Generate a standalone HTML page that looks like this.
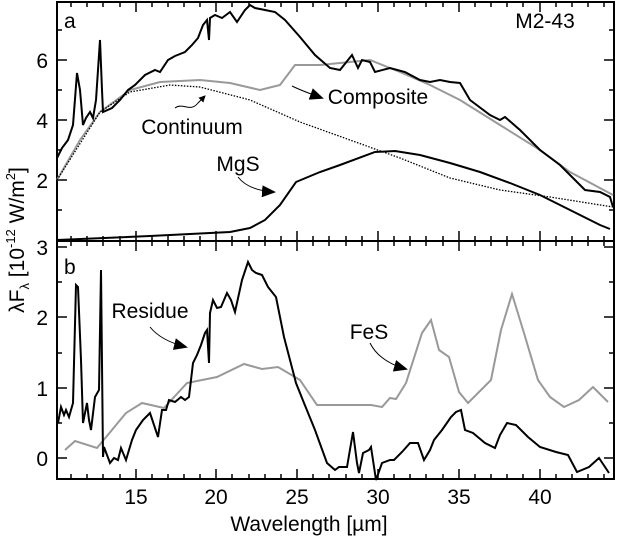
<!DOCTYPE html>
<html><head><style>body{margin:0;background:#fff}svg{display:block}text{font-family:"Liberation Sans",sans-serif;fill:#000}</style></head>
<body>
<svg width="618" height="540" viewBox="0 0 618 540" xmlns="http://www.w3.org/2000/svg">
<defs><marker id="ah" markerWidth="14" markerHeight="12" refX="12" refY="6" orient="auto" markerUnits="userSpaceOnUse"><path d="M0,0 L14,6 L0,12 z" fill="#000"/></marker>
<marker id="as" markerWidth="7" markerHeight="7" refX="6" refY="3.5" orient="auto" markerUnits="userSpaceOnUse"><path d="M0,0 L7,3.5 L0,7 z" fill="#000"/></marker></defs>
<g fill="none" stroke="#000" stroke-width="2">
<rect x="57" y="2" width="557" height="477"/>
<line x1="57" y1="241" x2="614" y2="241"/>
</g>
<g stroke="#000" stroke-width="1.5">
<path d="M136,479v-10M216,479v-10M297,479v-10M378,479v-10M459,479v-10M540,479v-10
M136,241v-10M216,241v-10M297,241v-10M378,241v-10M459,241v-10M540,241v-10
M136,241v10M216,241v10M297,241v10M378,241v10M459,241v10M540,241v10
M136,2v10M216,2v10M297,2v10M378,2v10M459,2v10M540,2v10"/>
<path d="M71,479v-5M87,479v-5M103,479v-5M120,479v-5M152,479v-5M168,479v-5M184,479v-5M200,479v-5M232,479v-5M249,479v-5M265,479v-5M281,479v-5M313,479v-5M329,479v-5M346,479v-5M362,479v-5M394,479v-5M410,479v-5M426,479v-5M443,479v-5M475,479v-5M491,479v-5M507,479v-5M523,479v-5M556,479v-5M572,479v-5M588,479v-5M604,479v-5
M71,241v-5M87,241v-5M103,241v-5M120,241v-5M152,241v-5M168,241v-5M184,241v-5M200,241v-5M232,241v-5M249,241v-5M265,241v-5M281,241v-5M313,241v-5M329,241v-5M346,241v-5M362,241v-5M394,241v-5M410,241v-5M426,241v-5M443,241v-5M475,241v-5M491,241v-5M507,241v-5M523,241v-5M556,241v-5M572,241v-5M588,241v-5M604,241v-5
M71,241v5M87,241v5M103,241v5M120,241v5M152,241v5M168,241v5M184,241v5M200,241v5M232,241v5M249,241v5M265,241v5M281,241v5M313,241v5M329,241v5M346,241v5M362,241v5M394,241v5M410,241v5M426,241v5M443,241v5M475,241v5M491,241v5M507,241v5M523,241v5M556,241v5M572,241v5M588,241v5M604,241v5
M71,2v5M87,2v5M103,2v5M120,2v5M152,2v5M168,2v5M184,2v5M200,2v5M232,2v5M249,2v5M265,2v5M281,2v5M313,2v5M329,2v5M346,2v5M362,2v5M394,2v5M410,2v5M426,2v5M443,2v5M475,2v5M491,2v5M507,2v5M523,2v5M556,2v5M572,2v5M588,2v5M604,2v5"/>
<path d="M57,180h10M57,120h10M57,60h10M614,180h-10M614,120h-10M614,60h-10
M57,210h5M57,150h5M57,90h5M57,30h5M614,210h-5M614,150h-5M614,90h-5M614,30h-5"/>
<path d="M57,458h10M57,388h10M57,317h10M57,247h10M614,458h-10M614,388h-10M614,317h-10M614,247h-10
M57,423h5M57,353h5M57,282h5M614,423h-5M614,353h-5M614,282h-5"/>
</g>
<!-- top panel -->
<polyline fill="none" stroke="#999" stroke-width="2" points="57,180 80,140 100,112 130,90 160,82 200,80 230,83 260,90 280,85 295,65 320,65 370,60 400,72 430,85 460,100 500,125 540,150 570,172 613,195"/>
<polyline fill="none" stroke="#000" stroke-width="1.3" stroke-dasharray="1.5,1.5" points="57,180 100,112 130,92 170,85 200,87 250,100 300,122 350,140 400,158 450,178 500,190 550,197 613,207"/>
<polyline fill="none" stroke="#000" stroke-width="2" points="57,240 150,236 230,232 250,228 265,220 280,205 296,182 320,172 340,165 375,152 395,151 420,155 450,163 480,172 510,183 540,195 570,210 600,225 610,229"/>
<polyline fill="none" stroke="#000" stroke-width="2" points="57,158 62,148 68,140 73,125 77,73 80,90 83,125 86,118 90,112 93,118 96,100 100,40 102,90 103,112 112,108 120,100 128,90 135,85 145,75 155,70 160,72 168,60 175,56 185,52 192,45 198,38 203,25 207,20 209,40 210,18 215,15 222,18 230,12 237,22 245,10 250,5 255,8 265,10 275,12 285,20 300,37 315,55 330,68 340,70 352,55 358,68 362,60 370,62 375,72 390,68 405,72 420,80 430,82 440,80 450,82 460,83 470,100 490,115 500,120 505,117 520,130 540,150 560,165 575,180 585,190 600,192 610,197 613,207"/>
<!-- bottom panel -->
<polyline fill="none" stroke="#999" stroke-width="2" points="65,450 75,441 97,448 126,413 142,403 164,408 187,383 217,377 244,364 262,369 278,367 300,380 317,405 371,405 382,407 390,398 396,399 406,383 422,333 431,320 439,350 449,357 459,392 468,403 491,380 501,330 512,294 524,333 538,380 550,397 564,407 579,400 593,387 608,402"/>
<polyline fill="none" stroke="#000" stroke-width="2" points="58,423 61,407 64,415 66,410 69,417 73,403 76,285 78,287 81,360 83,423 87,403 89,420 91,430 95,397 99,390 101,270 103,457 104,447 110,463 114,458 118,460 121,448 126,460 132,440 136,430 143,420 150,413 154,425 158,437 162,410 166,410 169,400 175,402 181,397 185,400 189,397 193,363 197,355 201,345 205,333 207,330 209,363 210,313 213,300 217,308 221,307 227,293 231,300 235,312 242,280 248,262 252,270 256,273 262,275 268,287 276,297 284,337 290,360 296,383 304,403 315,430 327,463 335,470 339,467 347,467 353,432 357,463 359,473 363,453 369,450 371,447 376,480 382,463 390,460 394,460 402,452 410,443 418,443 424,460 430,450 434,440 442,430 451,417 456,412 461,410 465,430 473,433 485,443 495,448 500,435 507,423 516,425 528,437 540,447 556,452 568,455 577,472 589,467 599,458 609,473"/>
<g fill="none" stroke="#000" stroke-width="1">
<path d="M175,108 C183,102 190,113 198,103 L205,96" marker-end="url(#as)"/>
<path d="M292,86 C300,90 308,93 322,98" marker-end="url(#ah)"/>
<path d="M238,177 C245,186 258,191 274,192" marker-end="url(#ah)"/>
<path d="M150,327 C158,337 170,343 186,347" marker-end="url(#ah)"/>
<path d="M370,343 C376,355 388,364 406,369" marker-end="url(#ah)"/>
</g>
<g font-size="21">
<text x="64" y="28">a</text>
<text x="545" y="28" text-anchor="middle">M2-43</text>
<text x="64" y="274">b</text>
<text x="192" y="134" text-anchor="middle">Continuum</text>
<text x="378" y="104" text-anchor="middle">Composite</text>
<text x="238" y="171" text-anchor="middle">MgS</text>
<text x="150" y="318" text-anchor="middle">Residue</text>
<text x="369" y="339" text-anchor="middle">FeS</text>
<g text-anchor="end"><text x="48" y="68">6</text><text x="48" y="128">4</text><text x="48" y="188">2</text>
<text x="48" y="255">3</text><text x="48" y="325">2</text><text x="48" y="396">1</text><text x="48" y="466">0</text></g>
<g text-anchor="middle"><text x="136" y="504">15</text><text x="216" y="504">20</text><text x="297" y="504">25</text><text x="378" y="504">30</text><text x="459" y="504">35</text><text x="540" y="504">40</text></g>
<text x="309" y="531" text-anchor="middle">Wavelength [µm]</text>
<text transform="translate(24,240) rotate(-90)" text-anchor="middle">λF<tspan font-size="13" dy="5">λ</tspan><tspan dy="-5"> [10</tspan><tspan font-size="13" dy="-9">-12</tspan><tspan dy="9"> W/m</tspan><tspan font-size="13" dy="-9">2</tspan><tspan dy="9">]</tspan></text>
</g>
</svg>
</body></html>
